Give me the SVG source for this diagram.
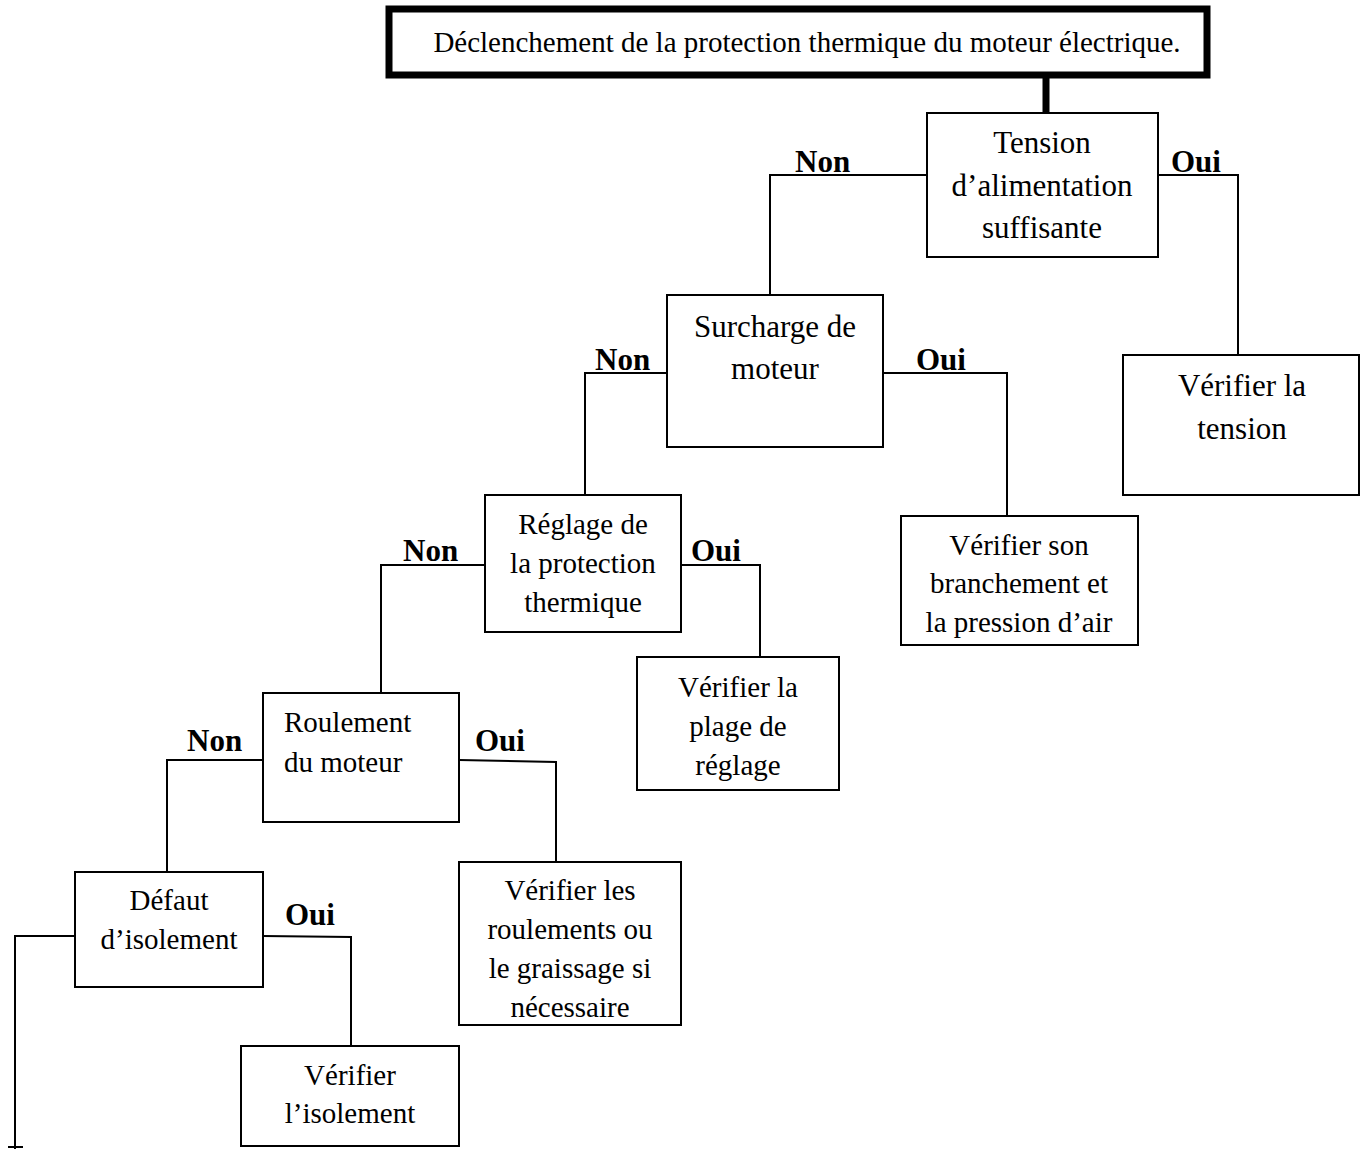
<svg xmlns="http://www.w3.org/2000/svg" width="1367" height="1149" viewBox="0 0 1367 1149">
<style>
.box{fill:#fff;stroke:#000;stroke-width:2}
.t{font-family:"Liberation Serif","Times New Roman",serif;font-size:29px;fill:#000;text-anchor:middle}
.big{font-size:31px}
.lbl{font-family:"Liberation Serif","Times New Roman",serif;font-size:31px;font-weight:bold;fill:#000}
.c{fill:none;stroke:#000;stroke-width:2}
</style>
<rect width="1367" height="1149" fill="#fff"/>
<g id="connectors">
<line x1="1046" y1="78" x2="1046" y2="113" stroke="#000" stroke-width="7"/>
<polyline class="c" points="927,175 770,175 770,295"/>
<polyline class="c" points="1158,175 1238,175 1238,355"/>
<polyline class="c" points="667,373 585,373 585,495"/>
<polyline class="c" points="883,373 1007,373 1007,516"/>
<polyline class="c" points="485,565 381,565 381,693"/>
<polyline class="c" points="681,565 760,565 760,657"/>
<polyline class="c" points="263,760 167,760 167,872"/>
<polyline class="c" points="459,760 556,762 556,862"/>
<polyline class="c" points="263,936 351,937 351,1046"/>
<polyline class="c" points="75,936 15,936 15,1149"/>
<line class="c" x1="8" y1="1147" x2="23" y2="1147"/>
<text class="lbl" x="795" y="172">Non</text>
<text class="lbl" x="1171" y="172">Oui</text>
<text class="lbl" x="595" y="370">Non</text>
<text class="lbl" x="916" y="370">Oui</text>
<text class="lbl" x="403" y="561">Non</text>
<text class="lbl" x="691" y="561">Oui</text>
<text class="lbl" x="187" y="751">Non</text>
<text class="lbl" x="475" y="751">Oui</text>
<text class="lbl" x="285" y="925">Oui</text>
</g>
<g id="n-top">
<rect x="389" y="9" width="818" height="66" fill="#fff" stroke="#000" stroke-width="7"/>
<text class="t" x="807" y="52">Déclenchement de la protection thermique du moteur électrique.</text>
</g>
<g id="n-tension">
<rect class="box" x="927" y="113" width="231" height="144"/>
<text class="t big" x="1042" y="153">Tension</text>
<text class="t big" x="1042" y="196">d’alimentation</text>
<text class="t big" x="1042" y="238">suffisante</text>
</g>
<g id="n-surcharge">
<rect class="box" x="667" y="295" width="216" height="152"/>
<text class="t big" x="775" y="337">Surcharge de</text>
<text class="t big" x="775" y="379">moteur</text>
</g>
<g id="n-verif-tension">
<rect class="box" x="1123" y="355" width="236" height="140"/>
<text class="t big" x="1242" y="396">Vérifier la</text>
<text class="t big" x="1242" y="439">tension</text>
</g>
<g id="n-reglage">
<rect class="box" x="485" y="495" width="196" height="137"/>
<text class="t" x="583" y="534">Réglage de</text>
<text class="t" x="583" y="573">la protection</text>
<text class="t" x="583" y="612">thermique</text>
</g>
<g id="n-branchement">
<rect class="box" x="901" y="516" width="237" height="129"/>
<text class="t" x="1019" y="555">Vérifier son</text>
<text class="t" x="1019" y="593">branchement et</text>
<text class="t" x="1019" y="632">la pression d’air</text>
</g>
<g id="n-plage">
<rect class="box" x="637" y="657" width="202" height="133"/>
<text class="t" x="738" y="697">Vérifier la</text>
<text class="t" x="738" y="736">plage de</text>
<text class="t" x="738" y="775">réglage</text>
</g>
<g id="n-roulement">
<rect class="box" x="263" y="693" width="196" height="129"/>
<text class="t" x="284" y="732" style="text-anchor:start">Roulement</text>
<text class="t" x="284" y="772" style="text-anchor:start">du moteur</text>
</g>
<g id="n-verif-roulements">
<rect class="box" x="459" y="862" width="222" height="163"/>
<text class="t" x="570" y="900">Vérifier les</text>
<text class="t" x="570" y="939">roulements ou</text>
<text class="t" x="570" y="978">le graissage si</text>
<text class="t" x="570" y="1017">nécessaire</text>
</g>
<g id="n-defaut">
<rect class="box" x="75" y="872" width="188" height="115"/>
<text class="t" x="169" y="910">Défaut</text>
<text class="t" x="169" y="949">d’isolement</text>
</g>
<g id="n-isolement">
<rect class="box" x="241" y="1046" width="218" height="100"/>
<text class="t" x="350" y="1085">Vérifier</text>
<text class="t" x="350" y="1123">l’isolement</text>
</g>
</svg>
